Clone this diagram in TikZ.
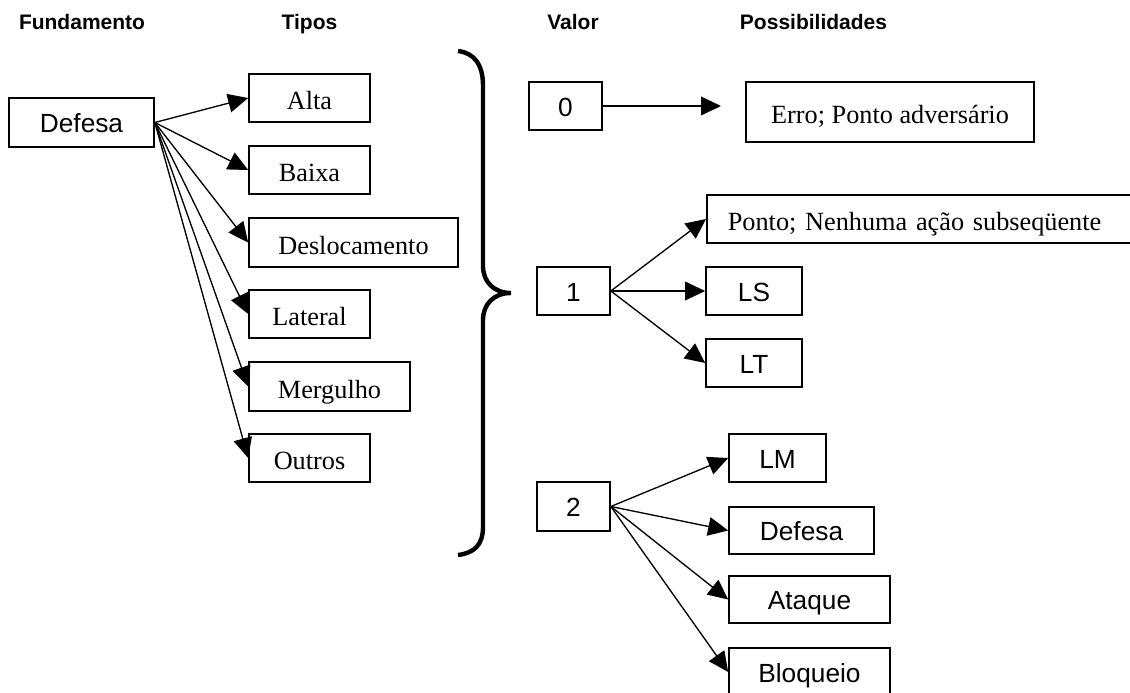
\documentclass[tikz,border=0pt]{standalone}
\usepackage{fontspec}
\setmainfont{Liberation Serif}
\setsansfont{Liberation Sans}
\usetikzlibrary{arrows.meta}

\begin{document}
\begin{tikzpicture}[x=0.75pt,y=-0.75pt,
  caixa/.style 2 args={draw, line width=1.25pt, inner sep=0pt, minimum width=#1*0.75pt, minimum height=#2*0.75pt},
  serif/.style={font=\fontsize{19.7}{24}\selectfont, text height=17.5pt, text depth=0pt},
  sans/.style={font=\sffamily\fontsize{19.7}{24}\selectfont, text height=15pt, text depth=0pt},
  titulo/.style={font=\sffamily\bfseries\fontsize{15.75}{19}\selectfont, inner sep=0pt, text height=11.4pt, text depth=0pt},
  seta/.style={line width=1pt, -{Triangle[length=15pt,width=14pt]}}]
\useasboundingbox (0,0) rectangle (1130,692);
\clip (0,0) rectangle (1130,692);

% titulos
\node[titulo] (tfund) at (82,22) {Fundamento};
\node[titulo] (ttipos) at (309.5,22) {Tipos};
\node[titulo] (tvalor) at (573,22) {Valor};
\node[titulo] (tposs) at (813.5,22) {Possibilidades};

% fundamento e tipos
\node[caixa={145}{49}, sans] (defesa) at (81.5,122.5) {Defesa};
\node[caixa={121}{48}, serif] (alta) at (309.5,98) {Alta};
\node[caixa={121}{48}, serif] (baixa) at (309.5,170) {Baixa};
\node[caixa={209}{49}, serif] (desloc) at (353.5,242.5) {Deslocamento};
\node[caixa={121}{48}, serif] (lateral) at (309.5,314) {Lateral};
\node[caixa={161}{49}, serif] (mergulho) at (329.5,386.5) {Mergulho};
\node[caixa={121}{48}, serif] (outros) at (309.5,458) {Outros};

\foreach \t in {alta,baixa,desloc,lateral,mergulho,outros}
  \draw[seta] (defesa.east) -- (\t.west);

% chave
\draw[line width=3.3pt] (458,51) .. controls (474,53) and (483,64) .. (483,86)
  -- (483,266) .. controls (483,282) and (494,293) .. (511,293)
  .. controls (494,293) and (483,304) .. (483,320)
  -- (483,527) .. controls (483,545) and (474,553) .. (458,555);

% valor 0
\node[caixa={73}{48}, sans] (v0) at (565.5,106) {0};
\node[caixa={288}{60}, serif] (erro) at (890,112) {Erro; Ponto adversário};
\coordinate (fim0) at (721,106);
\draw[seta] (v0.east) -- (fim0);

% valor 1
\node[caixa={73}{48}, sans] (v1) at (573.5,291) {1};
\node[caixa={1}{48}, serif, anchor=west, inner xsep=15.75pt, text width=330pt, align=left] (ponto) at (706,219) {Ponto; Nenhuma ação subseqüente};
\node[caixa={96}{48}, sans] (ls) at (754,291) {LS};
\node[caixa={96}{48}, sans] (lt) at (754,363) {LT};

\foreach \t in {ponto,ls,lt}
  \draw[seta] (v1.east) -- (\t.west);

% valor 2
\node[caixa={73}{49}, sans] (v2) at (573.5,506.5) {2};
\node[caixa={97}{48}, sans] (lm) at (777.5,458) {LM};
\node[caixa={145}{47}, sans] (defesab) at (801.5,530.5) {Defesa};
\node[caixa={161}{47}, sans] (ataque) at (809.5,599.5) {Ataque};
\node[caixa={161}{48}, sans] (bloqueio) at (809.5,672) {Bloqueio};

\foreach \t in {lm,defesab,ataque,bloqueio}
  \draw[seta] (v2.east) -- (\t.west);

\end{tikzpicture}
\end{document}
